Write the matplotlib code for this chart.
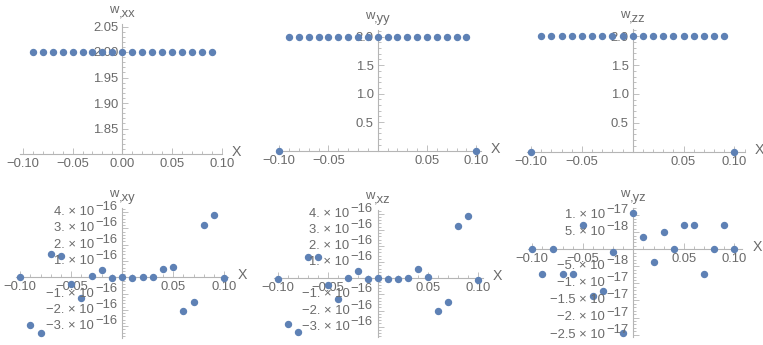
import matplotlib
matplotlib.use("Agg")
import matplotlib.pyplot as plt
from matplotlib.ticker import FixedLocator, FixedFormatter, MultipleLocator, NullFormatter
from matplotlib.transforms import blended_transform_factory

plt.rcParams['font.family'] = ['Liberation Sans', 'DejaVu Sans']

# ---------------- data ----------------
x_inner = [-0.09, -0.08, -0.07, -0.06, -0.05, -0.04, -0.03, -0.02, -0.01, 0.00,
           0.01, 0.02, 0.03, 0.04, 0.05, 0.06, 0.07, 0.08, 0.09]
x_full = [-0.10, -0.09, -0.08, -0.07, -0.06, -0.05, -0.04, -0.03, -0.02, -0.01, 0.00,
          0.01, 0.02, 0.03, 0.04, 0.05, 0.06, 0.07, 0.08, 0.09, 0.10]

w_xx = [2.0] * 19
w_yy = [0.0, 2.0, 2.0, 2.0, 2.0, 2.0, 2.0, 2.0, 2.0, 2.0, 2.0,
        2.0, 2.0, 2.0, 2.0, 2.0, 2.0, 2.0, 2.0, 2.0, 0.0]
w_zz = [0.0, 2.0, 2.0, 2.0, 2.0, 2.0, 2.0, 2.0, 2.0, 2.0, 2.0,
        2.0, 2.0, 2.0, 2.0, 2.0, 2.0, 2.0, 2.0, 2.0, 0.0]
w_xy = [0.0e-16, -2.9e-16, -3.4e-16, 1.4e-16, 1.3e-16, -0.4e-16, -1.3e-16, 0.1e-16,
        0.43e-16, -0.06e-16, 0.02e-16, -0.06e-16, 0.02e-16, 0.02e-16, 0.5e-16,
        0.65e-16, -2.08e-16, -1.5e-16, 3.18e-16, 3.84e-16, -0.06e-16]
w_xz = [-0.06e-16, -2.85e-16, -3.35e-16, 1.34e-16, 1.34e-16, -0.4e-16, -1.28e-16,
        0.02e-16, 0.43e-16, -0.06e-16, 0.02e-16, -0.06e-16, -0.06e-16, 0.02e-16,
        0.6e-16, 0.1e-16, -2.05e-16, -1.45e-16, 3.22e-16, 3.88e-16, -0.12e-16]
w_yz = [0.0, -7.1e-18, 0.0, -7.1e-18, -7.1e-18, 7.1e-18, -1.38e-17, -1.22e-17,
        -0.87e-18, -2.45e-17, 1.07e-17, 3.6e-18, -3.6e-18, 5.2e-18, 0.0, 7.1e-18,
        7.1e-18, -7.1e-18, 0.0, 7.1e-18, 0.0]

x_ticks = [-0.10, -0.05, 0.05, 0.10]
x_labels = ['\u22120.10', '\u22120.05', '0.05', '0.10']
x_ticks_tl = [-0.10, -0.05, 0.00, 0.05, 0.10]
x_labels_tl = ['\u22120.10', '\u22120.05', '0.00', '0.05', '0.10']

y_ticks_xx = [1.85, 1.90, 1.95, 2.00, 2.05]
y_labels_xx = ['1.85', '1.90', '1.95', '2.00', '2.05']
y_ticks_diag = [0.5, 1.0, 1.5, 2.0]
y_labels_diag = ['0.5', '1.0', '1.5', '2.0']
y_ticks_off = [-3e-16, -2e-16, -1e-16, 1e-16, 2e-16, 3e-16, 4e-16]
y_mant_off = ['\u22123.', '\u22122.', '\u22121.', '1.', '2.', '3.', '4.']
y_exp_off = ['\u221216'] * 7
y_ticks_yz = [-2.5e-17, -2e-17, -1.5e-17, -1e-17, -5e-18, 5e-18, 1e-17]
y_mant_yz = ['\u22122.5', '\u22122.', '\u22121.5', '\u22121.', '\u22125.', '5.', '1.']
y_exp_yz = ['\u221217', '\u221217', '\u221217', '\u221217', '\u221218', '\u221218', '\u221217']

title_base = 'w'
title_subs = [',xx', ',yy', ',zz', ',xy', ',xz', ',yz']

# ---------------- style ----------------
W, H = 763, 345
PT = '#5E81B5'
AX = '#b5b5b5'
TX = '#6a6a6a'
FS = 9.4
PX = 72 / 100  # points per pixel

fig = plt.figure(figsize=(W / 100, H / 100), dpi=100)


def place(x0px, sx, xlim, yref, yrefpx, sy, ylim):
    left = x0px + xlim[0] * sx
    width = (xlim[1] - xlim[0]) * sx
    top = yrefpx - (ylim[1] - yref) * sy
    height = (ylim[1] - ylim[0]) * sy
    ax = fig.add_axes([left / W, 1 - (top + height) / H, width / W, height / H])
    ax.set_xlim(*xlim)
    ax.set_ylim(*ylim)
    return ax


def style(ax, xt, xl, yt, yl, xminor, yminor, ybase, sub):
    ax.patch.set_visible(False)
    for s in ['top', 'right']:
        ax.spines[s].set_visible(False)
    ax.spines['left'].set_position(('data', 0))
    ax.spines['bottom'].set_position(('data', ybase))
    for s in ['left', 'bottom']:
        ax.spines[s].set_color(AX)
        ax.spines[s].set_linewidth(0.8)
    ax.xaxis.set_major_locator(FixedLocator(xt))
    ax.xaxis.set_major_formatter(FixedFormatter(xl))
    ax.yaxis.set_major_locator(FixedLocator(yt))
    if yl is not None:
        ax.yaxis.set_major_formatter(FixedFormatter(yl))
    else:
        ax.yaxis.set_major_formatter(NullFormatter())
    ax.xaxis.set_minor_locator(MultipleLocator(xminor))
    ax.yaxis.set_minor_locator(MultipleLocator(yminor))
    ax.tick_params(which='both', direction='in', color=AX, labelcolor=TX,
                   labelsize=FS, width=0.6, pad=3)
    ax.tick_params(which='major', length=4)
    ax.tick_params(which='minor', length=2)
    tr = blended_transform_factory(ax.transAxes, ax.transData)
    ax.annotate('X', xy=(1.0, ybase), xycoords=tr, xytext=(10 * PX, 2 * PX),
                textcoords='offset points', ha='left', va='center',
                color=TX, fontsize=FS + 0.8, annotation_clip=False)
    ylim = ax.get_ylim()
    ax.annotate(title_base, xy=(0, ylim[1]), xycoords='data', xytext=(-3.5 * PX, 11 * PX),
                textcoords='offset points', ha='right', va='baseline',
                color=TX, fontsize=FS, annotation_clip=False)
    ax.annotate(sub, xy=(0, ylim[1]), xycoords='data', xytext=(-3.5 * PX, 7.5 * PX),
                textcoords='offset points', ha='left', va='baseline',
                color=TX, fontsize=FS, annotation_clip=False)


def exp_labels(ax, ticks, mants, exps):
    renderer = fig.canvas.get_renderer()
    for t, m, e in zip(ticks, mants, exps):
        et = ax.annotate(e, xy=(0, t), xycoords='data', xytext=(-5 * PX, 5 * PX),
                         textcoords='offset points', ha='right', va='center',
                         color=TX, fontsize=FS, annotation_clip=False)
        w = et.get_window_extent(renderer).width
        ax.annotate(m + ' \u00d7 10', xy=(0, t), xycoords='data',
                    xytext=(-(5 + w + 1.0) * PX, 0), textcoords='offset points',
                    ha='right', va='center', color=TX, fontsize=FS,
                    annotation_clip=False)


# top-left: w,xx
ax1 = place(122.3, 994, (-0.1029, 0.1003), 2.0, 52, 510, (1.80, 2.054))
ax1.plot(x_inner, w_xx, 'o', ms=4.3, color=PT, clip_on=False, zorder=3)
style(ax1, x_ticks_tl, x_labels_tl, y_ticks_xx, y_labels_xx, 0.01, 0.01, 1.80, title_subs[0])

# top-middle: w,yy
ax2 = place(377.7, 985, (-0.1027, 0.105), 0.0, 150.5, 56.9, (0.0, 2.12))
ax2.plot(x_full, w_yy, 'o', ms=4.3, color=PT, clip_on=False, zorder=3)
style(ax2, x_ticks, x_labels, y_ticks_diag, y_labels_diag, 0.01, 0.1, 0.0, title_subs[1])

# top-right: w,zz
ax3 = place(632.7, 1017, (-0.1042, 0.110), 0.0, 151.7, 57.8, (0.0, 2.12))
ax3.plot(x_full, w_zz, 'o', ms=4.3, color=PT, clip_on=False, zorder=3)
style(ax3, x_ticks, x_labels, y_ticks_diag, y_labels_diag, 0.01, 0.1, 0.0, title_subs[2])

# bottom-left: w,xy
ax4 = place(122.3, 1020, (-0.104, 0.1037), 0.0, 277.3, 1.63e17, (-3.72e-16, 4.23e-16))
ax4.plot(x_full, w_xy, 'o', ms=4.3, color=PT, clip_on=False, zorder=3)
style(ax4, x_ticks, x_labels, y_ticks_off, None, 0.01, 0.2e-16, 0.0, title_subs[3])
exp_labels(ax4, y_ticks_off, y_mant_off, y_exp_off)

# bottom-middle: w,xz
ax5 = place(377.7, 1000, (-0.1035, 0.105), 0.0, 278.3, 1.614e17, (-3.62e-16, 4.25e-16))
ax5.plot(x_full, w_xz, 'o', ms=4.3, color=PT, clip_on=False, zorder=3)
style(ax5, x_ticks, x_labels, y_ticks_off, None, 0.01, 0.2e-16, 0.0, title_subs[4])
exp_labels(ax5, y_ticks_off, y_mant_off, y_exp_off)

# bottom-right: w,yz
ax6 = place(633.3, 1010, (-0.104, 0.108), 0.0, 249.3, 3.41e18, (-2.57e-17, 1.2e-17))
ax6.plot(x_full, w_yz, 'o', ms=4.3, color=PT, clip_on=False, zorder=3)
style(ax6, x_ticks, x_labels, y_ticks_yz, None, 0.01, 0.1e-17, 0.0, title_subs[5])
exp_labels(ax6, y_ticks_yz, y_mant_yz, y_exp_yz)

fig.savefig('out.png', dpi=100)
